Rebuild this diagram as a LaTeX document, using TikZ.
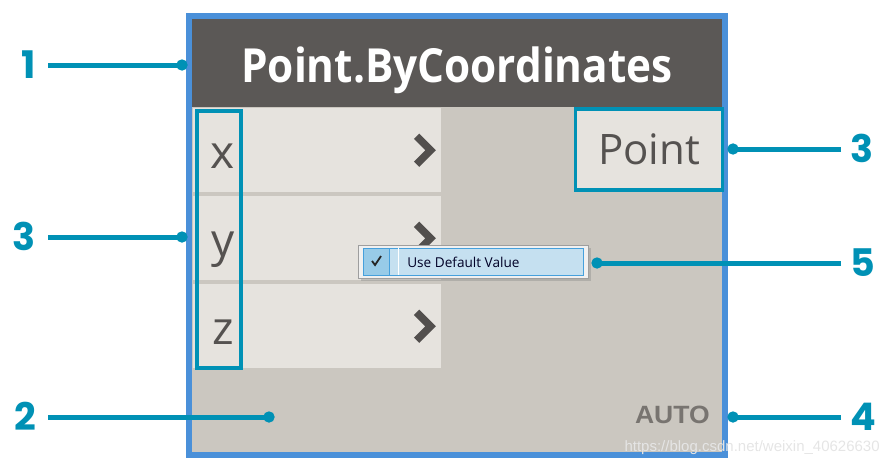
\documentclass[tikz,border=0pt]{standalone}
\usepackage{fontspec}
\setmainfont{Open Sans}
\newfontfamily\numfont{Poppins}
\newfontfamily\autofont{Liberation Sans}
\usetikzlibrary{arrows.meta, shadows}

\definecolor{dyteal}{RGB}{0,145,181}
\definecolor{dyblue}{RGB}{74,144,217}
\definecolor{dyheader}{RGB}{91,88,86}
\definecolor{dybody}{RGB}{203,199,192}
\definecolor{dyrow}{RGB}{230,227,222}
\definecolor{dytext}{RGB}{85,82,80}
\definecolor{dyauto}{RGB}{120,116,112}
\definecolor{menufill}{RGB}{197,224,240}
\definecolor{menuedge}{RGB}{70,160,220}
\definecolor{menucheck}{RGB}{152,203,232}

\begin{document}
\begin{tikzpicture}[
            x = 1pt, y = -1pt, % one unit per pixel, y going down
            > = {Circle[length=11pt]}, % dot at the marked end
            callout/.style = {->, draw = dyteal, line width = 5pt},
            semithick % line style
        ]

        \tikzstyle{inrow}=[
            fill = dyrow,
            inner sep = 0pt,
            minimum width = 248pt,
            minimum height = 84pt,
            anchor = north west
        ]
        \tikzstyle{portframe}=[
            draw = dyteal,
            line width = 3.5pt,
            inner sep = 0pt
        ]
        \tikzstyle{portname}=[
            text = dytext,
            font = \fontsize{46}{50}\selectfont,
            inner sep = 0pt,
            anchor = base
        ]
        \tikzstyle{chevron}=[
            draw = dyheader!90!black,
            line width = 7.5pt,
            miter limit = 3
        ]
        \tikzstyle{numleft}=[
            text = dyteal,
            font = \numfont\bfseries\fontsize{38}{40}\selectfont,
            text width = 30pt,
            text height = 27pt,
            text depth = 0pt,
            align = right,
            inner ysep = 0pt,
            inner xsep = 12pt
        ]
        \tikzstyle{numright}=[
            text = dyteal,
            font = \numfont\bfseries\fontsize{38}{40}\selectfont,
            text width = 30pt,
            text height = 27pt,
            text depth = 0pt,
            align = left,
            inner ysep = 0pt,
            inner xsep = 9pt
        ]

        \useasboundingbox (0,0) rectangle (891,463);

        % node body
        \fill[dybody] (189,16) rectangle (725,455);
        \fill[dyheader] (189,16) rectangle (725,107);
        \node[text = white, font = \bfseries\fontsize{47}{50}\selectfont,
              inner sep = 0pt, anchor = base] (title) at (457,82)
              {\scalebox{0.9}[1]{Point.ByCoordinates}};

        % input rows
        \foreach \pname/\ytop in {x/108, y/196, z/284} {
            \node[inrow] (r\pname) at (193,\ytop) {};
            \draw[chevron] ([shift={(-25,-14)}]r\pname.east)
                -- ([shift={(-11,0)}]r\pname.east)
                -- ([shift={(-25,14)}]r\pname.east);
            \node[portname] (p\pname) at ([shift={(30,18)}]r\pname.west) {\pname};
        }

        % outer selection frame
        \draw[dyblue, line width = 6pt] (189,16) rectangle (725,455);

        % ports
        \node[portframe, minimum width = 44pt, minimum height = 257pt,
              anchor = north west] (inports) at (195,109) {};
        \node[portframe, fill = dyrow, minimum width = 147pt, minimum height = 81pt,
              text = dytext, font = \fontsize{42}{46}\selectfont] (outport) at (649,149.5) {Point};

        % context menu
        \node[fill = white!94!black, draw = white!62!black, thin,
              minimum width = 230pt, minimum height = 33pt, inner sep = 0pt,
              drop shadow = {shadow xshift = 3pt, shadow yshift = -3pt, opacity = .35}]
              (menubox) at (473,261.5) {};
        \node[fill = menufill, draw = menuedge, thin, minimum width = 220pt,
              minimum height = 27pt, inner sep = 0pt] (menu) at (473,261.5) {};
        \node[fill = menucheck, draw = menuedge, thin, minimum width = 26pt,
              minimum height = 27pt, inner sep = 0pt, anchor = west] (check) at (menu.west) {};
        \draw[white, line width = 1pt] ([xshift = 9pt]check.north east) -- ([xshift = 9pt]check.south east);
        \draw[black!85, line width = 1.8pt] ([shift={(-4,-0.5)}]check.center)
            -- ([shift={(-1,3.5)}]check.center) -- ([shift={(5,-5.5)}]check.center);
        \node[text = black!85!blue, font = \fontsize{13.6}{15}\selectfont,
              inner sep = 0pt, anchor = base west] (menutext) at (407,267) {Use Default Value};

        % run mode
        \node[text = dyauto, font = \autofont\bfseries\fontsize{25}{27}\selectfont,
              inner sep = 0pt, anchor = base east] (auto) at (710,423)
              {\scalebox{1.06}[1]{AUTO}};

        % call-outs
        \coordinate (d1) at (187.5,65);
        \coordinate (d3a) at (187.5,237);
        \coordinate (d2) at (274.5,417);
        \coordinate (d3b) at (727.5,149);
        \coordinate (d5) at (591.5,263);
        \coordinate (d4) at (727.5,417);

        \node[numleft, anchor = east] (n1) at (48,65) {1};
        \node[numleft, anchor = east] (n3a) at (48,237) {3};
        \node[numleft, anchor = east] (n2) at (48,417) {2};
        \node[numright, anchor = west] (n3b) at (841,149) {3};
        \node[numright, anchor = west] (n5) at (841,263) {5};
        \node[numright, anchor = west] (n4) at (841,417) {4};

        \draw[callout] (n1) -- (d1);
        \draw[callout] (n3a) -- (d3a);
        \draw[callout] (n2) -- (d2);
        \draw[callout] (n3b) -- (d3b);
        \draw[callout] (n5) -- (d5);
        \draw[callout] (n4) -- (d4);

        % watermark
        \node[text = black!10, font = \autofont\fontsize{15}{17}\selectfont,
              inner sep = 0pt, anchor = base east] (wm) at (880,451) {https://blog.csdn.net/weixin\_40626630};
    \end{tikzpicture}
\end{document}
